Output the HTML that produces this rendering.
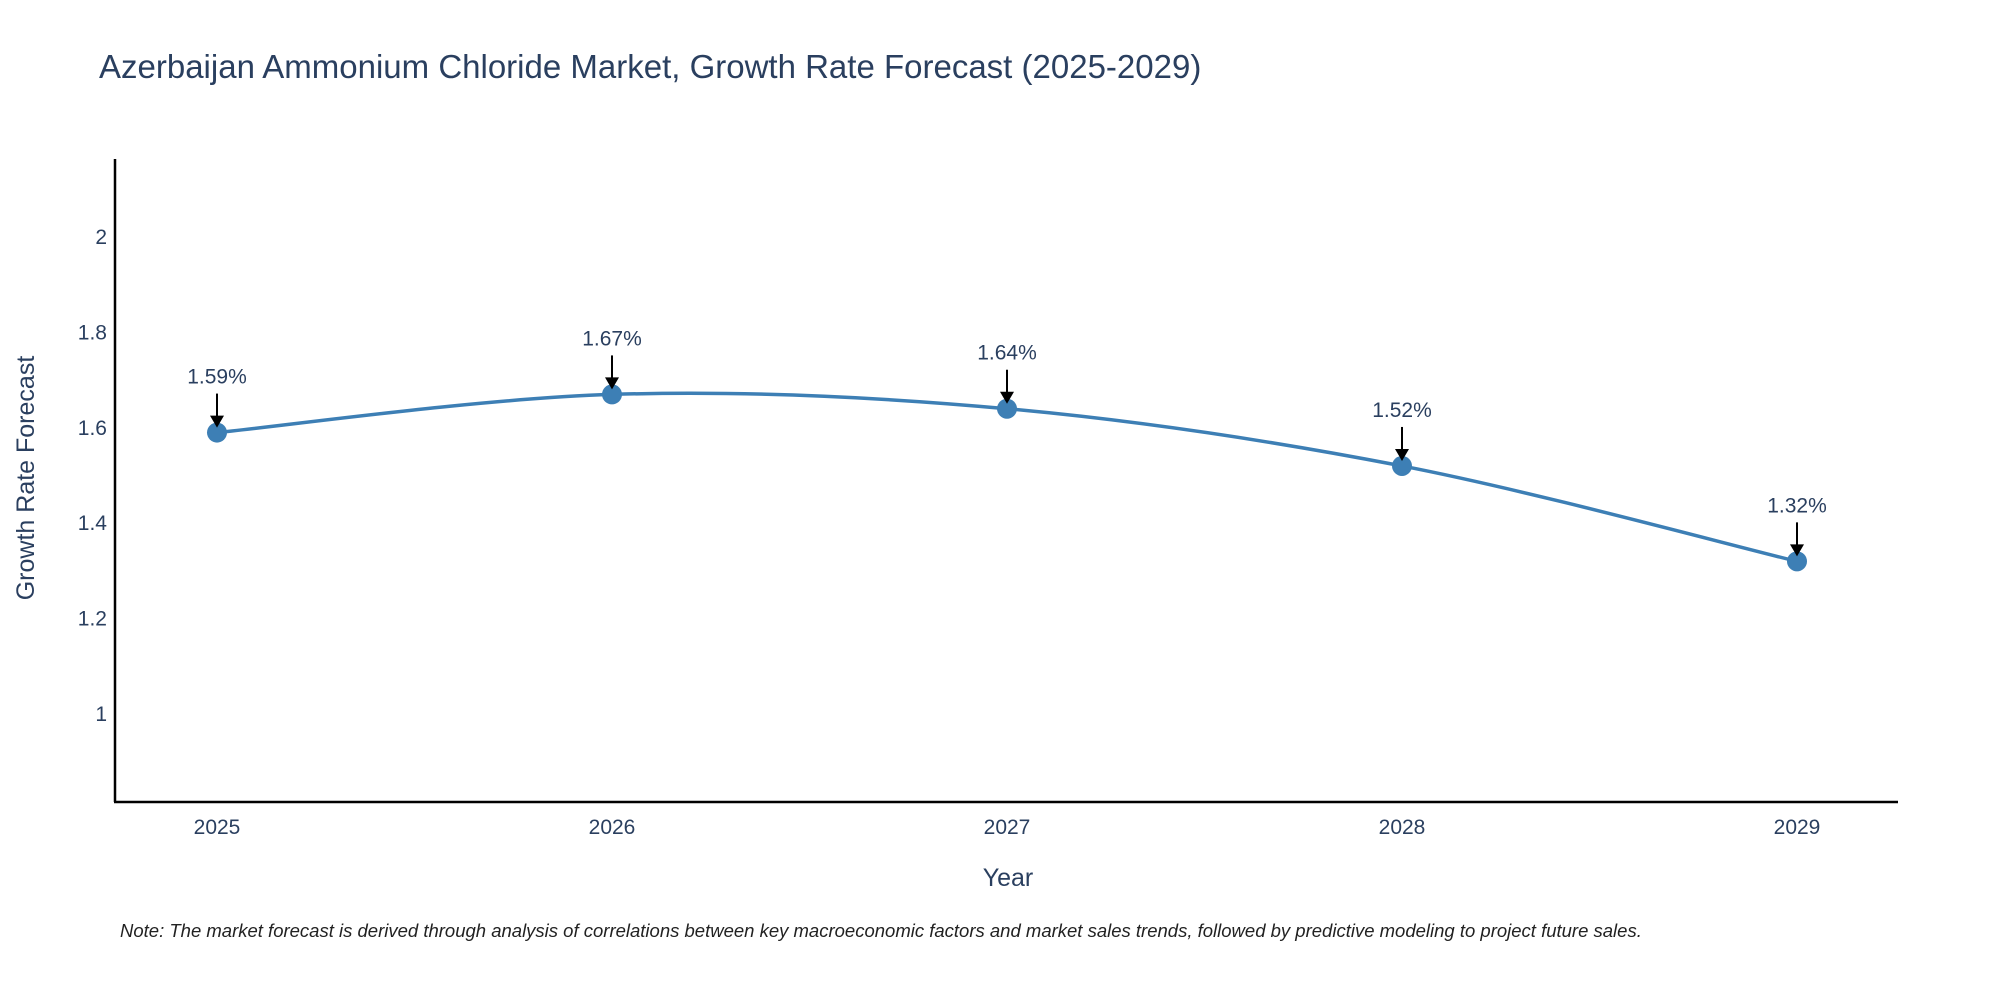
<!DOCTYPE html>
<html><head><meta charset="utf-8"><style>
body{margin:0;background:#fff;}
svg{display:block;font-family:"Liberation Sans",sans-serif;}
</style></head><body>
<svg id="chart" width="2000" height="1000" viewBox="0 0 2000 1000">
<text x="99" y="78" font-size="33" fill="#2a3f5f">Azerbaijan Ammonium Chloride Market, Growth Rate Forecast (2025-2029)</text>
<g id="yticks"></g><g id="xticks"></g>
<line x1="115" y1="159" x2="115" y2="802" stroke="#000" stroke-width="2.5"/>
<line x1="114" y1="802" x2="1898" y2="802" stroke="#000" stroke-width="2.5"/>
<path id="line" fill="none" stroke="#3d7fb5" stroke-width="3.5"/>
<g id="points"></g>
<text x="1008" y="886" font-size="25" fill="#2a3f5f" text-anchor="middle">Year</text>
<text transform="translate(34,478) rotate(-90)" font-size="25" fill="#2a3f5f" text-anchor="middle">Growth Rate Forecast</text>
<text x="120" y="937" font-size="18.5" font-style="italic" fill="#222">Note: The market forecast is derived through analysis of correlations between key macroeconomic factors and market sales trends, followed by predictive modeling to project future sales.</text>
</svg>
<script>
const years=["2025","2026","2027","2028","2029"];
const values=[1.59,1.67,1.64,1.52,1.32];
const labels=["1.59%","1.67%","1.64%","1.52%","1.32%"];
const yTickVals=[1,1.2,1.4,1.6,1.8,2];
const NS="http://www.w3.org/2000/svg";
const xs=i=>217+i*395;
const ys=v=>714-(v-1)*477;
function mk(t,a,p){const e=document.createElementNS(NS,t);for(const k in a)e.setAttribute(k,a[k]);p.appendChild(e);return e;}
const yt=document.getElementById('yticks');
yTickVals.forEach(v=>{const t=mk('text',{x:107,y:ys(v)+7,'font-size':21,fill:'#2a3f5f','text-anchor':'end'},yt);t.textContent=String(v);

});
const xt=document.getElementById('xticks');
years.forEach((y,i)=>{const t=mk('text',{x:xs(i),y:834,'font-size':21,fill:'#2a3f5f','text-anchor':'middle'},xt);t.textContent=y;

});
const P=values.map((v,i)=>[xs(i),ys(v)]);
let d=`M${P[0][0]},${P[0][1]}`;
for(let i=0;i<P.length-1;i++){const p0=P[Math.max(i-1,0)],p1=P[i],p2=P[i+1],p3=P[Math.min(i+2,P.length-1)];
const c1=[p1[0]+(p2[0]-p0[0])/6,p1[1]+(p2[1]-p0[1])/6],c2=[p2[0]-(p3[0]-p1[0])/6,p2[1]-(p3[1]-p1[1])/6];
d+=` C${c1[0]},${c1[1]} ${c2[0]},${c2[1]} ${p2[0]},${p2[1]}`;}
document.getElementById('line').setAttribute('d',d);
const pg=document.getElementById('points');
P.forEach((p,i)=>{
const c=mk('circle',{cx:p[0],cy:p[1],r:10,fill:'#3d7fb5'},pg);


const l=mk('line',{x1:p[0],y1:p[1]-39,x2:p[0],y2:p[1]-14,stroke:'#000','stroke-width':2},pg);


const a=mk('polygon',{points:`${p[0]-7},${p[1]-17} ${p[0]+7},${p[1]-17} ${p[0]},${p[1]-5}`,fill:'#000'},pg);


const t=mk('text',{x:p[0],y:p[1]-49,'font-size':21,fill:'#2a3f5f','text-anchor':'middle'},pg);t.textContent=labels[i];


});
</script>
</body></html>
